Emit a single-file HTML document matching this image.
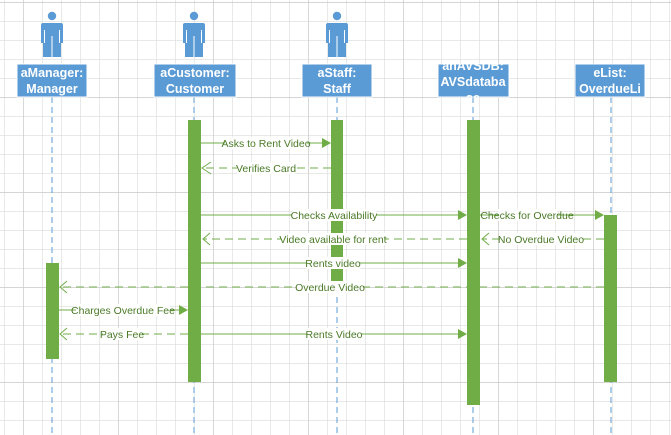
<!DOCTYPE html>
<html><head><meta charset="utf-8"><style>
html,body{margin:0;padding:0;background:#fff}
svg{display:block}
text{font-family:"Liberation Sans",sans-serif}
</style></head><body>
<svg width="671" height="435" viewBox="0 0 671 435" xmlns="http://www.w3.org/2000/svg">
<defs>
<pattern id="g" x="4" y="2" width="19" height="19" patternUnits="userSpaceOnUse">
<path d="M0 0V19M0 0H19" stroke="#dadada" stroke-width="1.2" fill="none"/>
</pattern>
<pattern id="G" x="23" y="2" width="95" height="95" patternUnits="userSpaceOnUse">
<path d="M0 0V95M0 0H95" stroke="#cacaca" stroke-width="1.4" fill="none"/>
</pattern>
<clipPath id="c1"><rect x="438" y="64" width="71" height="33"/></clipPath>
<g id="actor">
<circle cx="0" cy="16" r="4.2" fill="#5b9bd5"/>
<path d="M-11 25 Q-11 23 -9 23 H9 Q11 23 11 25 V43 H9 V57 H-9 V43 H-11 Z" fill="#5b9bd5"/>
<path d="M-7.5 30V43M7.5 30V43M0 36V57" stroke="#fff" stroke-width="1"/>
</g>
</defs>
<rect width="671" height="435" fill="url(#g)"/>
<rect width="671" height="435" fill="url(#G)"/>

<g stroke="#5b9bd5" stroke-width="1" stroke-dasharray="6,4">
<path d="M52 97V435M194 97V435M337 97V435M473 97V435M611 97V435"/>
</g>

<use href="#actor" x="52"/>
<use href="#actor" x="194"/>
<use href="#actor" x="337"/>

<g fill="#5b9bd5" stroke="#fff" stroke-width="1">
<rect x="17" y="64" width="70" height="33"/>
<rect x="154" y="64" width="82" height="33"/>
<rect x="302" y="64" width="70" height="33"/>
<rect x="438" y="64" width="71" height="33"/>
<rect x="575" y="64" width="70" height="33"/>
</g>
<g fill="#fff" font-weight="bold" font-size="12.5" text-anchor="middle">
<text x="52" y="77">aManager:</text><text x="52" y="93">Manager</text>
<text x="195" y="77">aCustomer:</text><text x="195" y="93">Customer</text>
<text x="337" y="77">aStaff:</text><text x="337" y="93">Staff</text>
<g clip-path="url(#c1)"><text x="473" y="70">anAVSDB:</text><text x="473" y="86">AVSdataba</text><text x="473" y="102">se</text></g>
<text x="610" y="77">eList:</text><text x="610" y="93">OverdueLi</text>
</g>

<g fill="#70ad47">
<rect x="188" y="120" width="13" height="262"/>
<rect x="331" y="120" width="12" height="170"/>
<rect x="467" y="120" width="13" height="285"/>
<rect x="604" y="215" width="13" height="167"/>
<rect x="46" y="263" width="13" height="96"/>
</g>

<g stroke="#70ad47" stroke-width="1" fill="none">
<path d="M201 143H324"/>
<path d="M331 168H204" stroke-dasharray="8,5"/>
<path d="M201 215H460"/>
<path d="M480 215H597"/>
<path d="M467 239H204" stroke-dasharray="8,5"/>
<path d="M604 239H483" stroke-dasharray="8,5"/>
<path d="M201 263H460"/>
<path d="M604 287H62" stroke-dasharray="8,5"/>
<path d="M59 310H181"/>
<path d="M188 334H62" stroke-dasharray="8,5"/>
<path d="M201 334H460"/>
<path d="M211 162L202 168L211 174M67 281L60 287L67 293M67 328L60 334L67 340M210 233L203 239L210 245M489 233L482 239L489 245"/>
</g>
<g fill="#70ad47">
<path d="M322 138L331 143L322 148Z"/>
<path d="M458 210L467 215L458 220Z"/>
<path d="M595 210L604 215L595 220Z"/>
<path d="M458 258L467 263L458 268Z"/>
<path d="M179 305L188 310L179 315Z"/>
<path d="M458 329L467 334L458 339Z"/>
</g>

<g font-size="10.5" fill="#4a7a26" text-anchor="middle">
<g fill="#fff">
<rect x="225" y="137" width="82" height="12"/>
<rect x="237" y="162" width="58" height="12"/>
<rect x="292" y="209" width="84" height="12"/>
<rect x="498" y="209" width="59" height="12"/>
<rect x="281" y="233" width="104" height="12"/>
<rect x="500" y="233" width="82" height="12"/>
<rect x="307" y="257" width="53" height="12"/>
<rect x="297" y="281" width="66" height="12"/>
<rect x="76" y="304" width="94" height="12"/>
<rect x="103" y="328" width="39" height="12"/>
<rect x="307" y="328" width="54" height="12"/>
</g>
<text x="266" y="147">Asks to Rent Video</text>
<text x="266" y="172">Verifies Card</text>
<text x="334" y="219">Checks Availability</text>
<text x="527" y="219">Checks for Overdue</text>
<text x="333" y="243">Video available for rent</text>
<text x="541" y="243">No Overdue Video</text>
<text x="333" y="267">Rents video</text>
<text x="330" y="291">Overdue Video</text>
<text x="123" y="314">Charges Overdue Fee</text>
<text x="122" y="338">Pays Fee</text>
<text x="334" y="338">Rents Video</text>
</g>
</svg>
</body></html>
